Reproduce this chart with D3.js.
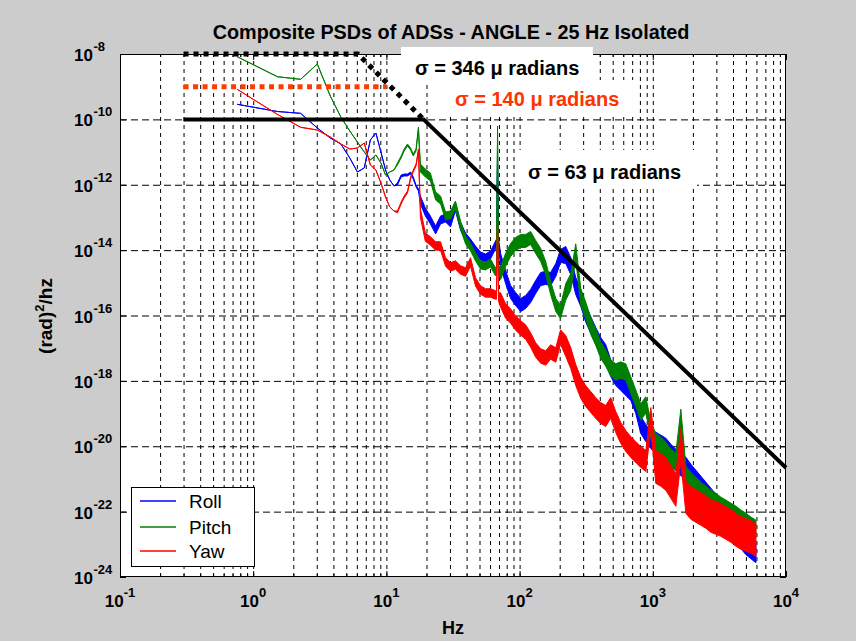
<!DOCTYPE html>
<html><head><meta charset="utf-8">
<script src="https://cdn.jsdelivr.net/npm/d3@7"></script>
<style>body{margin:0;background:#cccccc;} svg{display:block;}</style>
</head><body>
<svg id="chart" width="856" height="641"></svg>
<script>
// ---------------- data ----------------
const freqHz = [0.758, 1.52, 2.27, 3.03, 3.79, 4.55, 5.31, 6.06, 6.82, 7.58, 8.34, 9.10, 9.85, 10.6, 11.4, 12.1, 12.9, 13.6, 14.4, 15.2, 15.9, 16.7, 17.4,
  18.0, 19.6, 21.4, 23.4, 25.5, 27.8, 30.3, 33.0, 36.0, 39.3, 42.8, 46.7, 50.9, 55.5, 60.5, 66.0,
  67.1, 68.3, 69.5,
  72.0, 78.5, 85.6, 93.3, 102, 111, 121, 132, 144, 157, 171, 187, 203, 222, 242, 264, 288, 313, 342, 373, 406, 443, 483, 527, 575, 627, 683, 745, 812, 886, 966, 1053, 1149, 1253, 1366, 1489, 1624, 1771, 1931, 2105, 2296, 2503, 2730, 2976, 3245, 3539, 3859, 4208, 4588, 5002, 5455, 5948];

const rollPsd = [2.89e-10, 1.74e-10, 1.53e-10, 5.45e-11, 2.69e-11, 1.77e-11, 6.59e-12, 2.46e-12, 3.26e-12, 2.34e-11, 3.83e-11, 1.00e-11, 2.83e-12, 1.40e-12, 9.16e-13, 1.05e-12, 1.85e-12, 1.99e-12, 1.99e-12, 2.29e-12, 1.61e-12, 9.16e-13, 6.92e-13,
  3.42e-13, 1.47e-13, 8.35e-14, 4.13e-14, 8.35e-14, 9.62e-14, 6.76e-14, 2.09e-13, 5.47e-14, 2.52e-14, 1.65e-14, 1.01e-14, 6.62e-15, 5.75e-15, 7.10e-15, 1.44e-14,
  1.65e-14, 7.06e-12, 1.65e-14,
  4.99e-15, 1.51e-15, 5.25e-16, 3.20e-16, 2.10e-16, 2.59e-16, 3.96e-16, 7.45e-16, 1.31e-15, 1.41e-15, 1.31e-15, 2.47e-15, 6.62e-15, 7.10e-15, 3.27e-15, 8.00e-16, 3.44e-16, 1.19e-16, 5.13e-17, 2.36e-17, 1.17e-17, 7.14e-18, 2.48e-18, 1.32e-18, 9.25e-19, 6.51e-19, 4.58e-19, 1.83e-19, 4.48e-20, 2.55e-20, 1.56e-20, 1.26e-20, 1.02e-20, 8.26e-21, 5.41e-21, 3.80e-21, 2.67e-21, 2.16e-21, 1.32e-21, 8.67e-22, 5.68e-22, 3.72e-22, 2.44e-22, 1.60e-22, 9.77e-23, 6.40e-23, 3.65e-23, 2.23e-23, 1.56e-23, 1.03e-23, 7.74e-24, 5.84e-24];

const pitchPsd = [8.26e-9, 2.02e-9, 1.68e-9, 4.94e-9, 5.19e-10, 1.18e-10, 4.42e-11, 2.03e-11, 1.00e-11, 5.72e-12, 8.13e-12, 4.63e-12, 1.99e-12, 2.46e-12, 2.83e-12, 4.32e-12, 7.06e-12, 1.16e-11, 1.64e-11, 1.24e-11, 8.13e-12, 1.16e-11, 5.45e-11,
  3.26e-12, 2.29e-12, 1.73e-12, 4.53e-13, 3.42e-13, 1.11e-13, 1.19e-13, 2.40e-13, 5.87e-14, 2.04e-14, 1.25e-14, 6.17e-15, 3.51e-15, 3.27e-15, 4.05e-15, 2.14e-15,
  2.47e-15, 4.73e-11, 2.47e-15,
  2.00e-15, 4.99e-15, 1.01e-14, 1.54e-14, 1.91e-14, 1.91e-14, 2.35e-14, 1.25e-14, 7.10e-15, 2.84e-15, 6.95e-16, 2.10e-16, 1.28e-16, 5.25e-16, 1.06e-15, 8.77e-15, 3.69e-16, 1.48e-16, 4.78e-17, 2.20e-17, 8.81e-18, 5.01e-18, 2.48e-18, 1.87e-18, 2.15e-18, 1.87e-18, 7.50e-19, 3.00e-19, 1.12e-19, 1.83e-19, 3.15e-20, 1.35e-20, 1.02e-20, 7.18e-21, 4.38e-21, 3.30e-21, 7.33e-20, 1.32e-21, 8.67e-22, 6.09e-22, 4.29e-22, 3.24e-22, 2.44e-22, 1.97e-22, 1.49e-22, 1.21e-22, 9.77e-23, 7.91e-23, 5.97e-23, 4.83e-23, 3.65e-23, 2.95e-23];

const yawPsd = [8.32e-10, 1.42e-10, 5.73e-11, 4.73e-11, 2.89e-11, 1.77e-11, 1.24e-11, 1.33e-11, 1.89e-11, 4.02e-12, 2.83e-12, 1.13e-12, 4.23e-13, 2.09e-13, 1.57e-13, 1.47e-13, 2.77e-13, 4.23e-13, 6.00e-13, 1.61e-12, 2.64e-12, 4.02e-12, 1.16e-11,
  1.37e-13, 2.52e-14, 1.91e-14, 1.34e-14, 1.34e-14, 4.34e-15, 3.05e-15, 3.51e-15, 2.47e-15, 2.14e-15, 4.34e-15, 1.06e-15, 6.04e-16, 4.89e-16, 4.89e-16, 4.25e-16,
  4.25e-16, 7.26e-14, 3.69e-16,
  2.99e-16, 1.38e-16, 9.66e-17, 5.90e-17, 4.15e-17, 3.13e-17, 1.78e-17, 8.81e-18, 5.78e-18, 5.01e-18, 7.66e-18, 6.19e-18, 2.20e-17, 1.17e-17, 5.01e-18, 1.51e-18, 6.07e-19, 3.45e-19, 2.26e-19, 1.48e-19, 1.04e-19, 8.45e-20, 1.48e-19, 5.53e-20, 2.55e-20, 1.45e-20, 9.51e-21, 6.68e-21, 4.70e-21, 3.55e-21, 7.33e-20, 2.32e-21, 1.88e-21, 1.42e-21, 8.07e-22, 4.60e-22, 1.09e-20, 2.81e-22, 1.84e-22, 1.49e-22, 1.21e-22, 9.77e-23, 7.37e-23, 6.40e-23, 5.56e-23, 4.50e-23, 3.65e-23, 2.75e-23, 2.23e-23, 1.93e-23, 1.68e-23, 1.36e-23];

// half-width of the noise band (decades), per frequency band
const spreadEdgesHz = [12, 18, 72, 210, 1000];
const rollSpread  = [0, 0.03, 0.12, 0.20, 0.26, 0.33];
const pitchSpread = [0, 0.03, 0.12, 0.20, 0.25, 0.27];
const yawSpread   = [0, 0.03, 0.13, 0.22, 0.32, 0.50];

// sigma limit lines
const limit346Hz = [0.3, 6.1, 19];
const limit346Psd = [1e-8, 1e-8, 1e-10];
const limit140Hz = [0.3, 10];
const limit140Psd = [1e-9, 1e-9];
const limit63Hz = [0.3, 19, 1e4];
const limit63Psd = [1e-10, 1e-10, 2.2e-21];

const xTickExp = [-1, 0, 1, 2, 3, 4];
const yTickExp = [-8, -10, -12, -14, -16, -18, -20, -22, -24];
const seriesNames = ["Roll", "Pitch", "Yaw"];
const seriesColors = ["#0000ff", "#008000", "#ff0000"];
const titleText = "Composite PSDs of ADSs - ANGLE - 25 Hz Isolated";

// ---------------- layout ----------------
const W = 856, H = 641;
const L = 120, R = 786, T = 54, B = 577;
const FONT = "'Liberation Sans', Arial, Helvetica, sans-serif";

const svg = d3.select("#chart");
svg.append("rect").attr("width", W).attr("height", H).attr("fill", "#cccccc");

const x = d3.scaleLog().domain([0.1, 1e4]).range([L, R]);
const y = d3.scaleLog().domain([1e-24, 1e-8]).range([B, T]);

svg.append("rect").attr("x", L).attr("y", T).attr("width", R - L).attr("height", B - T).attr("fill", "#ffffff");

const xAll = [];
for (let k = -1; k <= 3; k++) for (let d = 1; d <= 9; d++) xAll.push(d * Math.pow(10, k));
xAll.push(1e4);
const xMajor = xTickExp.map(e => Math.pow(10, e));
const xMinor = xAll.filter(v => !xMajor.some(m => Math.abs(m - v) / m < 1e-9));
const yMajor = yTickExp.map(e => Math.pow(10, e));

// grid
const gx = svg.append("g").attr("transform", `translate(0,${B})`)
  .call(d3.axisBottom(x).tickValues(xAll.filter(v => v > 0.1 && v < 1e4)).tickSize(-(B - T)).tickFormat(""));
gx.select(".domain").remove();
gx.selectAll("line").attr("stroke", "#000").attr("stroke-width", 1).attr("stroke-dasharray", "4,4");

const gy = svg.append("g").attr("transform", `translate(${L},0)`)
  .call(d3.axisLeft(y).tickValues(yMajor.filter(v => v > 1e-24 && v < 1e-8)).tickSize(-(R - L)).tickFormat(""));
gy.select(".domain").remove();
gy.selectAll("line").attr("stroke", "#000").attr("stroke-width", 1).attr("stroke-dasharray", "7,4");

// series
svg.append("clipPath").attr("id", "plotclip").append("rect")
  .attr("x", L).attr("y", T).attr("width", R - L).attr("height", B - T);
const plotG = svg.append("g").attr("clip-path", "url(#plotclip)");

function bandIdx(f) { let i = 0; while (i < spreadEdgesHz.length && f >= spreadEdgesHz[i]) i++; return i; }

const seriesList = [rollPsd, pitchPsd, yawPsd];
const spreadList = [rollSpread, pitchSpread, yawSpread];
seriesList.forEach((vals, si) => {
  const n = Math.min(vals.length, freqHz.length);
  const data = d3.range(n).map(i => ({ f: freqHz[i], p: vals[i], s: spreadList[si][bandIdx(freqHz[i])] }));
  const area = d3.area()
    .x(d => x(d.f))
    .y0(d => y(d.p / Math.pow(10, d.s)))
    .y1(d => y(d.p * Math.pow(10, d.s)));
  plotG.append("path").datum(data).attr("d", area)
    .attr("fill", seriesColors[si]).attr("stroke", seriesColors[si])
    .attr("stroke-width", 1).attr("stroke-linejoin", "round");
});

// limit lines
const lim = d3.line().x(d => x(d[0])).y(d => y(d[1]));
svg.append("path").datum(limit63Hz.map((f, i) => [f, limit63Psd[i]])).attr("d", lim)
  .attr("fill", "none").attr("stroke", "#000").attr("stroke-width", 4);
svg.append("path").datum(limit140Hz.map((f, i) => [f, limit140Psd[i]])).attr("d", lim)
  .attr("fill", "none").attr("stroke", "#ff3c00").attr("stroke-width", 5).attr("stroke-dasharray", "5,4.5");
svg.append("path").datum(limit346Hz.map((f, i) => [f, limit346Psd[i]])).attr("d", lim)
  .attr("fill", "none").attr("stroke", "#000").attr("stroke-width", 5).attr("stroke-dasharray", "5,5");

// axis ticks (inside) on all four sides
function styleAxis(g) { g.select(".domain").remove(); g.selectAll("line").attr("stroke", "#000").attr("stroke-width", 1); }
styleAxis(svg.append("g").attr("transform", `translate(0,${B})`).call(d3.axisBottom(x).tickValues(xMajor).tickSize(-6).tickFormat("")));
styleAxis(svg.append("g").attr("transform", `translate(0,${B})`).call(d3.axisBottom(x).tickValues(xMinor).tickSize(-3).tickFormat("")));
styleAxis(svg.append("g").attr("transform", `translate(0,${T})`).call(d3.axisTop(x).tickValues(xMajor).tickSize(-6).tickFormat("")));
styleAxis(svg.append("g").attr("transform", `translate(0,${T})`).call(d3.axisTop(x).tickValues(xMinor).tickSize(-3).tickFormat("")));
styleAxis(svg.append("g").attr("transform", `translate(${L},0)`).call(d3.axisLeft(y).tickValues(yMajor).tickSize(-6).tickFormat("")));
styleAxis(svg.append("g").attr("transform", `translate(${R},0)`).call(d3.axisRight(y).tickValues(yMajor).tickSize(-6).tickFormat("")));

svg.append("rect").attr("x", L + 0.5).attr("y", T + 0.5).attr("width", R - L - 1).attr("height", B - T - 1)
  .attr("fill", "none").attr("stroke", "#000").attr("stroke-width", 1);

// tick labels
yTickExp.forEach(e => {
  const yy = y(Math.pow(10, e));
  svg.append("text").attr("x", 93).attr("y", yy + 7).attr("text-anchor", "end")
    .attr("font-family", FONT).attr("font-weight", "bold").attr("font-size", 17).text("10");
  svg.append("text").attr("x", 93.5).attr("y", yy - 3).attr("text-anchor", "start")
    .attr("font-family", FONT).attr("font-weight", "bold").attr("font-size", 13).text(String(e));
});
xTickExp.forEach(e => {
  const t = svg.append("text").attr("x", x(Math.pow(10, e))).attr("y", 607).attr("text-anchor", "middle")
    .attr("font-family", FONT).attr("font-weight", "bold").attr("font-size", 17);
  t.append("tspan").text("10");
  t.append("tspan").attr("dy", -10).attr("font-size", 13).text(String(e));
});

// axis labels & title
svg.append("text").attr("x", (L + R) / 2).attr("y", 634).attr("text-anchor", "middle")
  .attr("font-family", FONT).attr("font-weight", "bold").attr("font-size", 18).text("Hz");
const yl = svg.append("text").attr("transform", "translate(52,316) rotate(-90)").attr("text-anchor", "middle")
  .attr("font-family", FONT).attr("font-weight", "bold").attr("font-size", 19);
yl.append("tspan").text("(rad)");
yl.append("tspan").attr("dy", -8).attr("font-size", 13).text("2");
yl.append("tspan").attr("dy", 8).text("/hz");
svg.append("text").attr("x", 451).attr("y", 39).attr("text-anchor", "middle")
  .attr("font-family", FONT).attr("font-weight", "bold").attr("font-size", 19.8).text(titleText);

// sigma annotation boxes
svg.append("rect").attr("x", 401).attr("y", 47).attr("width", 192).attr("height", 34).attr("fill", "#fff");
svg.append("rect").attr("x", 437).attr("y", 80).attr("width", 198).attr("height", 35).attr("fill", "#fff");
svg.append("rect").attr("x", 515).attr("y", 150).attr("width", 182).attr("height", 39).attr("fill", "#fff");
svg.append("text").attr("x", 415).attr("y", 75).attr("font-family", FONT).attr("font-weight", "bold")
  .attr("font-size", 20).attr("fill", "#000").text("σ = 346 μ radians");
svg.append("text").attr("x", 455).attr("y", 105.5).attr("font-family", FONT).attr("font-weight", "bold")
  .attr("font-size", 20).attr("fill", "#ff3300").text("σ = 140 μ radians");
svg.append("text").attr("x", 528).attr("y", 178.5).attr("font-family", FONT).attr("font-weight", "bold")
  .attr("font-size", 20).attr("fill", "#000").text("σ = 63 μ radians");

// legend
const lg = svg.append("g");
lg.append("rect").attr("x", 131.5).attr("y", 487.5).attr("width", 123).attr("height", 79)
  .attr("fill", "#fff").attr("stroke", "#000").attr("stroke-width", 1);
const legendY = [501, 527, 551];
seriesNames.forEach((name, i) => {
  lg.append("line").attr("x1", 140).attr("x2", 176).attr("y1", legendY[i]).attr("y2", legendY[i])
    .attr("stroke", seriesColors[i]).attr("stroke-width", 1.5);
  lg.append("text").attr("x", 189).attr("y", legendY[i] + 6.5).attr("font-family", FONT)
    .attr("font-size", 19).attr("fill", "#000").text(name);
});
</script>
</body></html>
